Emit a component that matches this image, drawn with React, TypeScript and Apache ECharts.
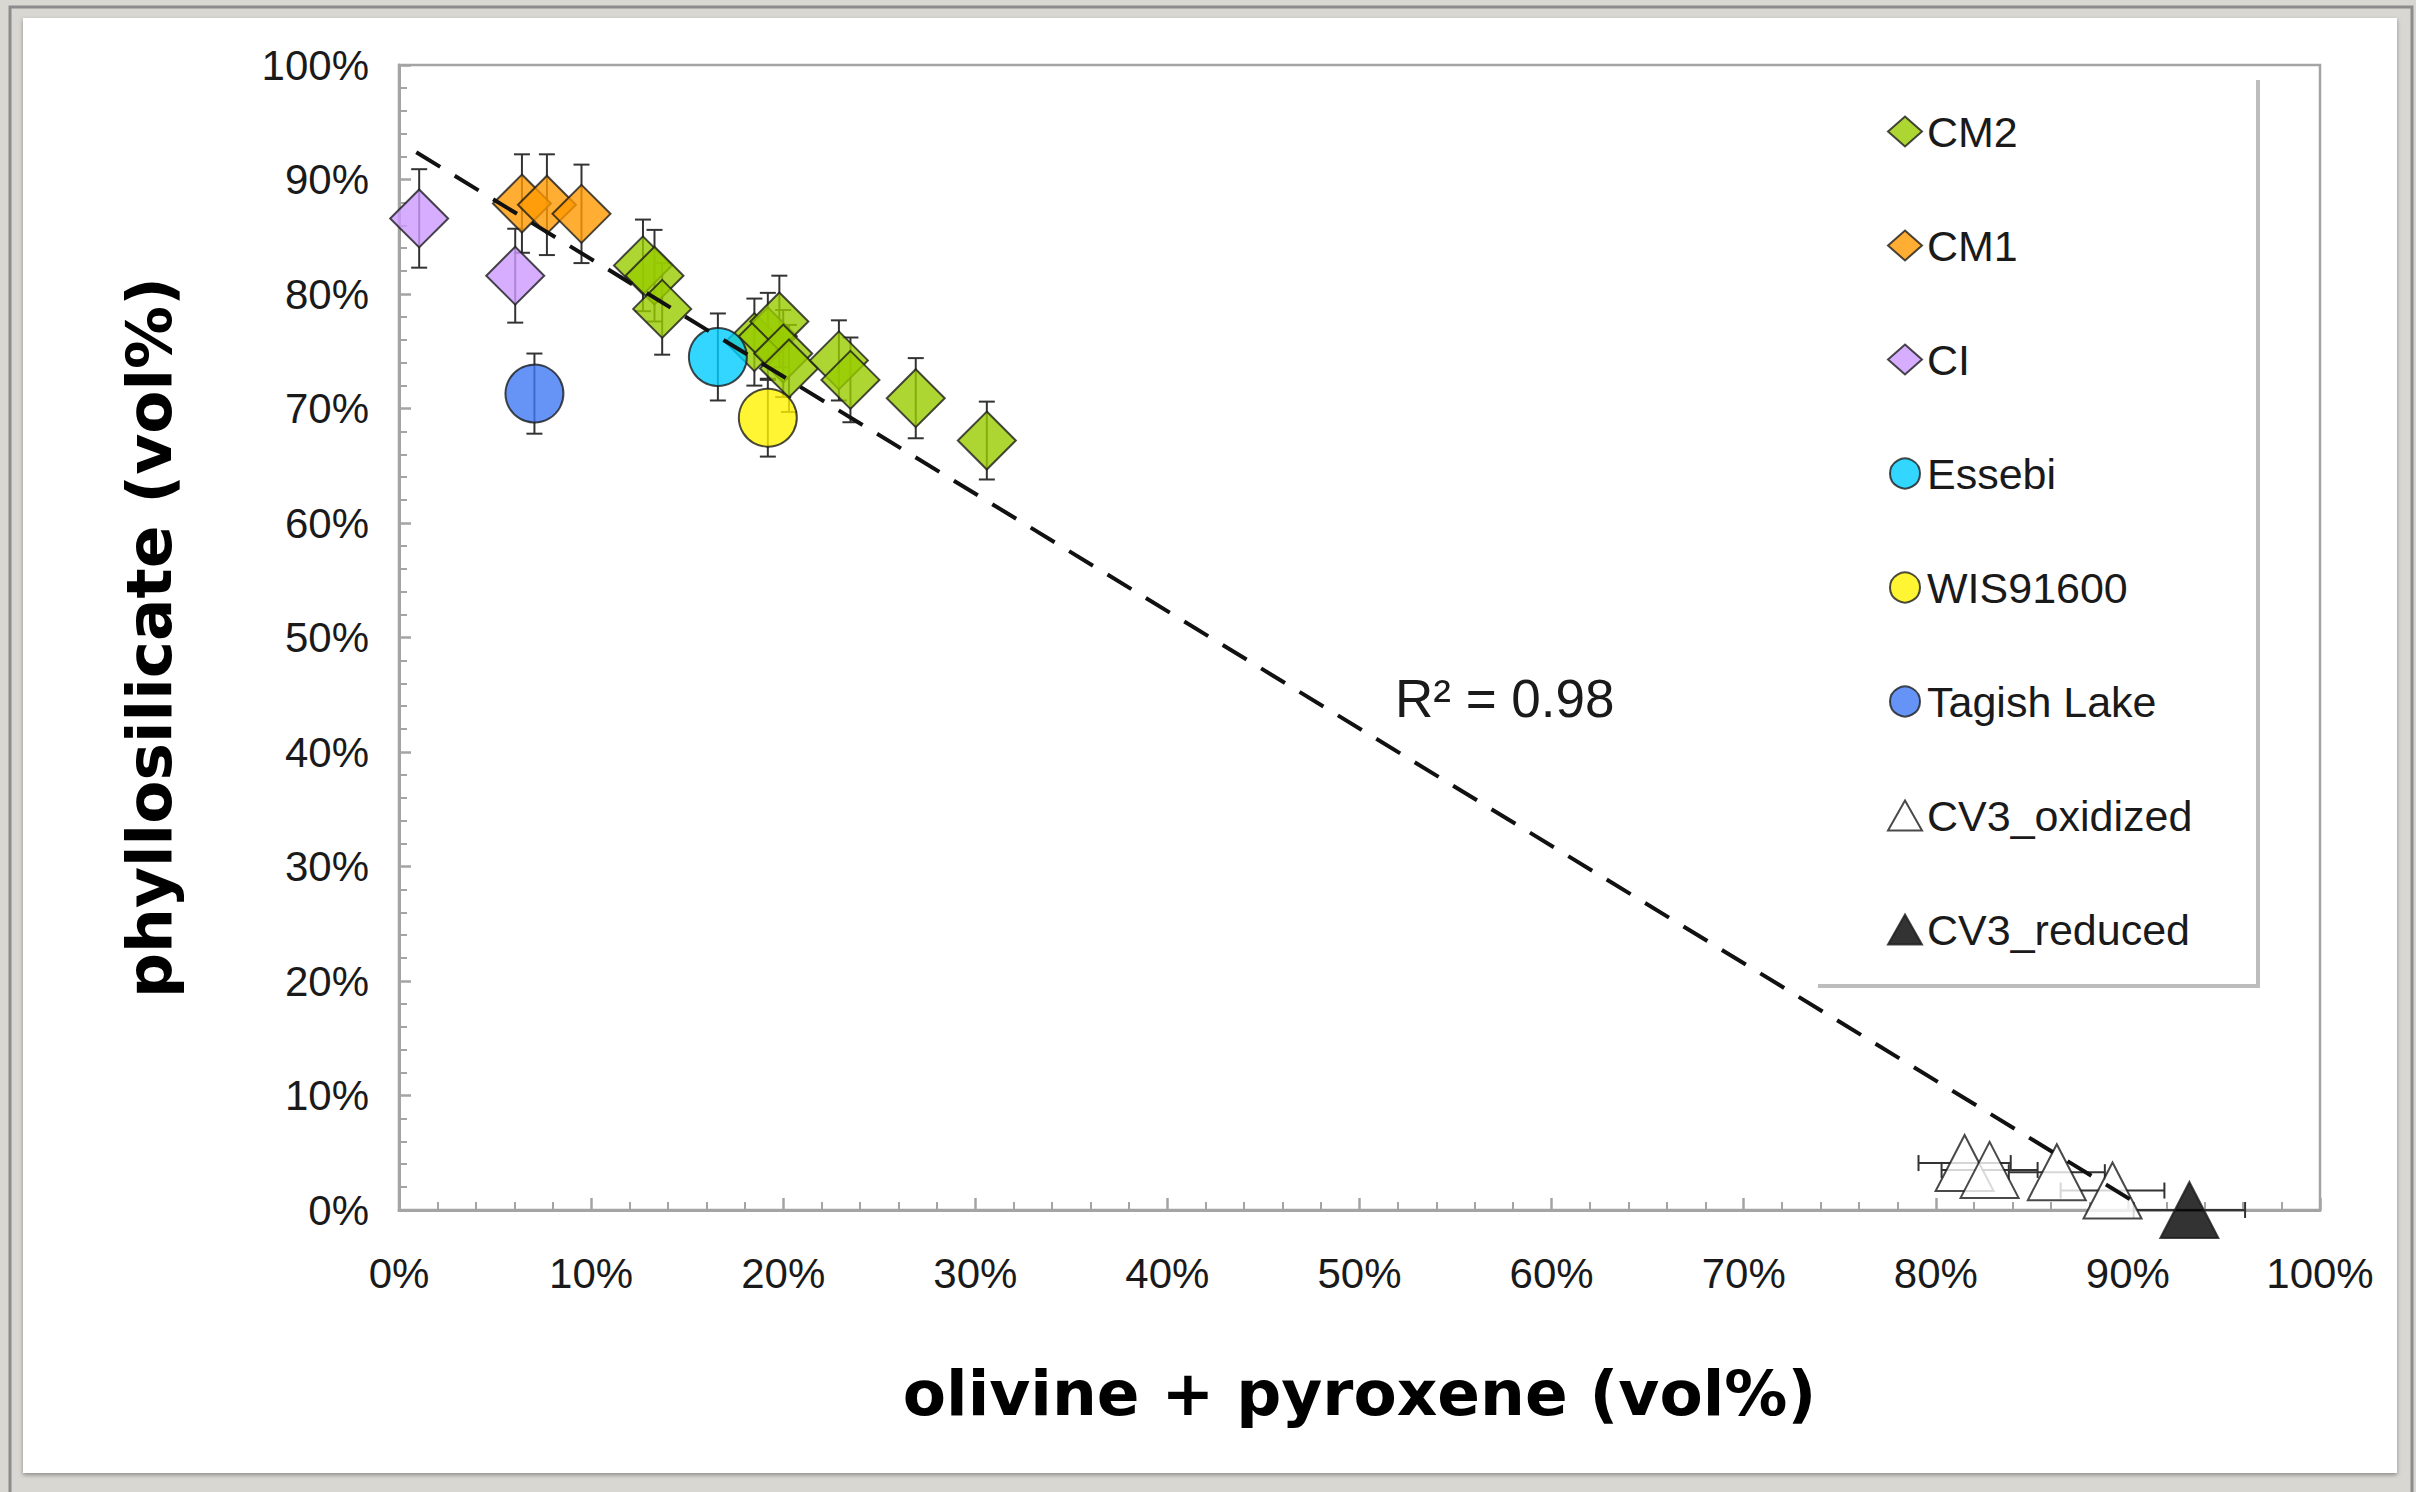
import React, { useEffect, useRef } from "react";
import * as echarts from "echarts";

// ---- data (vol%) ----
const cm2X = [12.7, 13.3, 13.7, 18.5, 19.2, 19.8, 20.0, 20.3, 22.9, 23.5, 26.9, 30.6];
const cm2Y = [82.5, 81.6, 78.7, 75.8, 76.3, 77.6, 74.8, 73.5, 74.2, 72.5, 70.9, 67.2];
const cm2Err = [4.0, 4.0, 4.0, 3.8, 3.8, 4.0, 3.8, 3.8, 3.5, 3.7, 3.5, 3.4];

const cm1X = [6.4, 7.7, 9.5];
const cm1Y = [87.9, 87.8, 87.0];
const cm1Err = [4.3, 4.4, 4.3];

const ciX = [1.05, 6.05];
const ciY = [86.6, 81.6];
const ciErr = [4.3, 4.1];

const essebiX = [16.6];
const essebiY = [74.5];
const essebiErr = [3.8];

const wisX = [19.2];
const wisY = [69.2];
const wisErr = [3.4];

const tagishX = [7.05];
const tagishY = [71.3];
const tagishErr = [3.5];

const cv3oxX = [81.5, 82.8, 86.3, 89.2];
const cv3oxY = [4.1, 3.5, 3.3, 1.7];
const cv3oxXErr = [2.4, 2.5, 2.5, 2.7];

const cv3redX = [93.2];
const cv3redY = [0];
const cv3redXErr = [2.9];

// linear fit
const trendX = [0.9, 90.6];
const trendSlope = -1.025;
const trendIntercept = 93.3;
const trendLabel = "R² = 0.98";

const axisTicks = [0, 10, 20, 30, 40, 50, 60, 70, 80, 90, 100];

const seriesNames = ["CM2", "CM1", "CI", "Essebi", "WIS91600", "Tagish Lake", "CV3_oxidized", "CV3_reduced"];

const zip = (xs: number[], ys: number[]) => xs.map((x, i) => [x, ys[i]]);
const yErrRows = (xs: number[], ys: number[], es: number[]) => xs.map((x, i) => [x, ys[i], 0, es[i]]);
const xErrRows = (xs: number[], ys: number[], es: number[]) => xs.map((x, i) => [x, ys[i], es[i], 0]);

const FONT = "'Liberation Sans', Arial, Helvetica, sans-serif";
const BOLD = "'DejaVu Sans', Verdana, sans-serif";
const AXIS_GRAY = "#a4a4a4";

export default function App() {
  const ref = useRef<HTMLDivElement>(null);

  useEffect(() => {
    if (!ref.current) return;
    const chart = echarts.init(ref.current, undefined, { renderer: "svg" });

    const errData = [
      ...yErrRows(cm2X, cm2Y, cm2Err),
      ...yErrRows(cm1X, cm1Y, cm1Err),
      ...yErrRows(ciX, ciY, ciErr),
      ...yErrRows(essebiX, essebiY, essebiErr),
      ...yErrRows(wisX, wisY, wisErr),
      ...yErrRows(tagishX, tagishY, tagishErr),
      ...xErrRows(cv3oxX, cv3oxY, cv3oxXErr),
      ...xErrRows(cv3redX, cv3redY, cv3redXErr),
    ];

    const border = { borderColor: "#1c1c1c", borderWidth: 2 };

    const scatter = (name: string, data: number[][], symbol: string, size: number | number[], color: string) => ({
      name,
      type: "scatter",
      data,
      symbol,
      symbolSize: size,
      z: 3,
      itemStyle: { color, ...border },
    });

    const option: any = {
      animation: false,
      backgroundColor: "#d9d7d2",
      graphic: [
        {
          type: "rect",
          z: -10,
          shape: { x: 10, y: 7, width: 2402, height: 1500 },
          style: { fill: "#d9d7d2", stroke: "#8c8c8c", lineWidth: 3 },
          silent: true,
        },
        {
          type: "rect",
          z: -9,
          shape: { x: 23, y: 18, width: 2374, height: 1455 },
          style: {
            fill: "#ffffff",
            shadowColor: "rgba(0,0,0,0.35)",
            shadowBlur: 4,
            shadowOffsetY: 2,
          },
          silent: true,
        },
        {
          type: "polyline",
          z: 1,
          shape: { points: [[1818, 986], [2258, 986], [2258, 80]] },
          style: { stroke: "#bdbdbd", lineWidth: 4, fill: "none" },
          silent: true,
        },
        {
          type: "text",
          x: 1395,
          y: 698,
          z: 5,
          style: {
            text: trendLabel,
            font: `53px ${FONT}`,
            fill: "#1a1a1a",
            align: "left",
            verticalAlign: "middle",
          },
        },
      ],
      grid: {
        left: 399,
        top: 65,
        right: 96,
        bottom: 282,
        show: true,
        borderColor: AXIS_GRAY,
        borderWidth: 2.5,
        backgroundColor: "transparent",
      },
      legend: {
        orient: "vertical",
        left: 1882,
        top: 105,
        itemWidth: 34,
        itemHeight: 30,
        itemGap: 71,
        selectedMode: false,
        data: seriesNames,
        textStyle: { fontFamily: FONT, fontSize: 43, color: "#1a1a1a", lineHeight: 43 },
      },
      xAxis: {
        type: "value",
        min: 0,
        max: 100,
        interval: 10,
        name: "olivine + pyroxene (vol%)",
        nameLocation: "middle",
        nameGap: 152,
        nameTextStyle: { fontFamily: BOLD, fontWeight: "bold", fontSize: 63, color: "#000" },
        axisLine: { show: true, lineStyle: { color: AXIS_GRAY, width: 3 } },
        axisTick: { show: true, inside: true, length: 12, lineStyle: { color: AXIS_GRAY, width: 2.5 } },
        minorTick: { show: true, splitNumber: 5, length: 8, lineStyle: { color: AXIS_GRAY, width: 2 } },
        splitLine: { show: false },
        axisLabel: {
          margin: 42,
          fontFamily: FONT,
          fontSize: 42,
          color: "#1a1a1a",
          customValues: axisTicks,
          formatter: (v: number) => `${v}%`,
        },
      },
      yAxis: {
        type: "value",
        min: 0,
        max: 100,
        interval: 10,
        name: "phyllosilicate (vol%)",
        nameLocation: "middle",
        nameRotate: 90,
        nameGap: 218,
        nameTextStyle: { fontFamily: BOLD, fontWeight: "bold", fontSize: 63, color: "#000" },
        axisLine: { show: true, lineStyle: { color: AXIS_GRAY, width: 3 } },
        axisTick: { show: true, inside: true, length: 12, lineStyle: { color: AXIS_GRAY, width: 2.5 } },
        minorTick: { show: true, splitNumber: 5, length: 8, lineStyle: { color: AXIS_GRAY, width: 2 } },
        splitLine: { show: false },
        axisLabel: {
          margin: 30,
          fontFamily: FONT,
          fontSize: 42,
          color: "#1a1a1a",
          formatter: (v: number) => `${v}%`,
        },
      },
      series: [
        {
          type: "custom",
          name: "error bars",
          z: 2,
          silent: true,
          data: errData,
          renderItem: (params: any, api: any) => {
            const x = api.value(0);
            const y = api.value(1);
            const ex = api.value(2);
            const ey = api.value(3);
            const cap = 8;
            const style = { stroke: "#333333", lineWidth: 2 };
            const children: any[] = [];
            if (ey > 0) {
              const t = api.coord([x, y + ey]);
              const b = api.coord([x, y - ey]);
              children.push({ type: "line", shape: { x1: t[0], y1: t[1], x2: b[0], y2: b[1] }, style });
              children.push({ type: "line", shape: { x1: t[0] - cap, y1: t[1], x2: t[0] + cap, y2: t[1] }, style });
              children.push({ type: "line", shape: { x1: b[0] - cap, y1: b[1], x2: b[0] + cap, y2: b[1] }, style });
            }
            if (ex > 0) {
              const l = api.coord([x - ex, y]);
              const r = api.coord([x + ex, y]);
              children.push({ type: "line", shape: { x1: l[0], y1: l[1], x2: r[0], y2: r[1] }, style });
              children.push({ type: "line", shape: { x1: l[0], y1: l[1] - cap, x2: l[0], y2: l[1] + cap }, style });
              children.push({ type: "line", shape: { x1: r[0], y1: r[1] - cap, x2: r[0], y2: r[1] + cap }, style });
            }
            return { type: "group", children };
          },
        },
        scatter("CM2", zip(cm2X, cm2Y), "diamond", 58, "#99cc00"),
        scatter("CM1", zip(cm1X, cm1Y), "diamond", 58, "#ff9900"),
        scatter("CI", zip(ciX, ciY), "diamond", 58, "#cc99ff"),
        scatter("Essebi", zip(essebiX, essebiY), "circle", 58, "#00ccff"),
        scatter("WIS91600", zip(wisX, wisY), "circle", 58, "#fff200"),
        scatter("Tagish Lake", zip(tagishX, tagishY), "circle", 58, "#4079f4"),
        scatter("CV3_oxidized", zip(cv3oxX, cv3oxY), "triangle", [58, 56], "#ffffff"),
        scatter("CV3_reduced", zip(cv3redX, cv3redY), "triangle", [58, 56], "#000000"),
        {
          type: "line",
          name: "fit",
          z: 4,
          silent: true,
          symbol: "none",
          data: trendX.map((x) => [x, trendIntercept + trendSlope * x]),
          lineStyle: { color: "#111111", width: 4, type: [28, 17] },
        },
      ],
    };

    chart.setOption(option);
    return () => chart.dispose();
  }, []);

  return (
    <div
      ref={ref}
      style={{ position: "absolute", left: 0, top: 0, width: 2416, height: 1492 }}
    />
  );
}
